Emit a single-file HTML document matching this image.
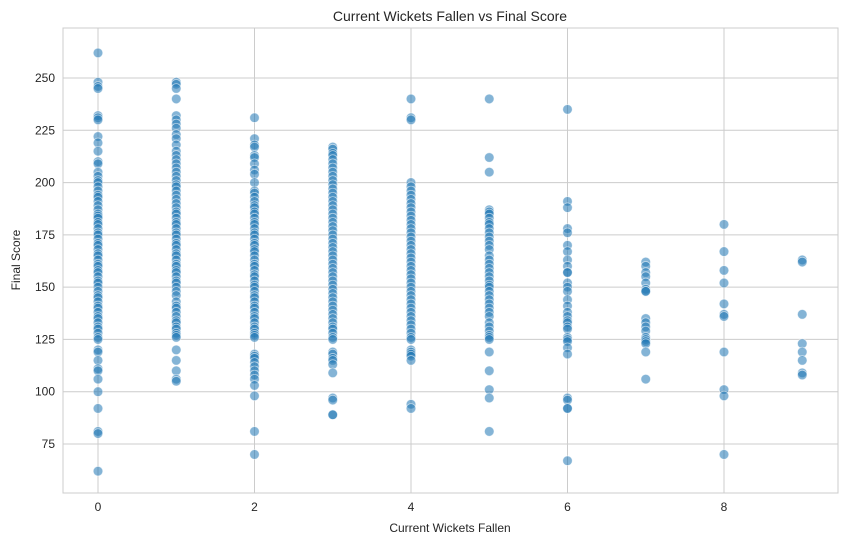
<!DOCTYPE html>
<html><head><meta charset="utf-8"><style>
body{margin:0;background:#fff;font-family:"Liberation Sans",sans-serif}
svg text{font-family:"Liberation Sans",sans-serif;fill:#262626}
</style></head><body>
<svg id="chart" width="847" height="545" xmlns="http://www.w3.org/2000/svg">
<rect x="63" y="28" width="775" height="465" fill="#fff" stroke="#ccc" stroke-width="1"/>
<g id="grid"></g>
<g id="points"></g>
<g id="ticks"></g>
<text x="450" y="21" text-anchor="middle" font-size="14">Current Wickets Fallen vs Final Score</text>
<text x="450" y="532" text-anchor="middle" font-size="12">Current Wickets Fallen</text>
<text transform="translate(20,260) rotate(-90)" text-anchor="middle" font-size="12">Final Score</text>
</svg>
<script>
const xTicks=[0,2,4,6,8];
const yTicks=[75,100,125,150,175,200,225,250];
const wickets=[0,1,2,3,4,5,6,7,8,9];
const col0=[262,248,246,245,232,231,230,222,219,215,210,209,205,203,201,200,198,196,194,193,191,189,187,185,184,183,181,180,178,176,175,173,171,170,168,166,165,163,161,160,158,157,155,153,152,150,148,146,145,143,141,140,138,136,135,133,131,130,128,126,125,120,119,115,111,110,106,100,92,81,80,62];
const col1=[248,247,245,240,232,230,228,226,223,221,218,215,213,211,209,207,205,203,201,199,198,196,194,192,190,188,186,185,183,181,180,178,176,175,173,171,170,168,166,165,163,161,160,158,157,155,153,152,150,148,146,143,141,140,138,136,134,133,131,130,128,127,126,120,115,110,106,105];
const col2=[231,221,218,217,213,212,209,206,204,200,196,195,193,191,189,188,186,185,183,181,180,178,176,175,173,171,170,168,167,165,163,161,160,158,156,155,153,151,150,148,146,145,143,141,140,138,136,135,133,131,130,128,127,126,118,117,116,114,112,110,108,106,103,98,81,70];
const col3=[217,216,214,213,211,209,207,205,203,201,199,197,195,193,191,189,187,185,183,181,179,177,175,173,171,169,167,165,163,161,159,157,155,153,151,149,147,145,143,141,139,137,135,133,131,130,128,126,125,119,118,116,115,113,109,97,96,89,89];
const col4=[240,231,230,200,198,196,194,192,190,188,186,184,182,180,178,176,174,172,170,168,166,164,162,160,158,156,154,152,150,148,146,144,142,140,138,136,134,132,130,128,126,125,120,119,118,117,115,94,92];
const col5=[240,212,205,187,186,185,183,181,180,178,176,174,172,170,168,165,163,161,159,157,155,153,151,150,148,146,144,142,140,138,136,133,131,129,127,126,125,119,110,101,97,81];
const col6=[235,191,188,178,176,170,167,163,160,157,157,152,150,148,144,141,138,136,134,133,131,130,126,125,124,121,118,97,96,92,92,67];
const col7=[162,160,157,155,152,149,148,148,135,133,131,129,126,125,124,123,119,106];
const col8=[180,167,158,152,142,137,136,119,101,98,70];
const col9=[163,162,137,123,119,115,109,108];
const columns=[col0,col1,col2,col3,col4,col5,col6,col7,col8,col9];
const NS="http://www.w3.org/2000/svg";
const X=v=>98+v*78.25;
const Y=v=>78+(250-v)*2.0914;
const grid=document.getElementById('grid'),pts=document.getElementById('points'),tk=document.getElementById('ticks');
function mk(tag,attrs,parent){const e=document.createElementNS(NS,tag);for(const k in attrs)e.setAttribute(k,attrs[k]);parent.appendChild(e);return e;}
xTicks.forEach(t=>{
  const l=mk('line',{x1:X(t),x2:X(t),y1:28,y2:493,stroke:'#cccccc','stroke-width':1},grid);
  
  
  const tx=mk('text',{x:X(t),y:511,'text-anchor':'middle','font-size':12},tk);
  tx.textContent=t;
  
  
});
yTicks.forEach(t=>{
  const l=mk('line',{x1:63,x2:838,y1:Y(t),y2:Y(t),stroke:'#cccccc','stroke-width':1},grid);
  
  
  const tx=mk('text',{x:55,y:Y(t)+4,'text-anchor':'end','font-size':12},tk);
  tx.textContent=t;
  
  
});
columns.forEach((col,i)=>{
  col.forEach(v=>{
    const c=mk('circle',{cx:X(wickets[i]),cy:Y(v),r:4.8,fill:'rgba(31,119,180,0.55)',stroke:'#fff','stroke-opacity':0.6,'stroke-width':0.8},pts);
    
    
  });
});
</script>
</body></html>
